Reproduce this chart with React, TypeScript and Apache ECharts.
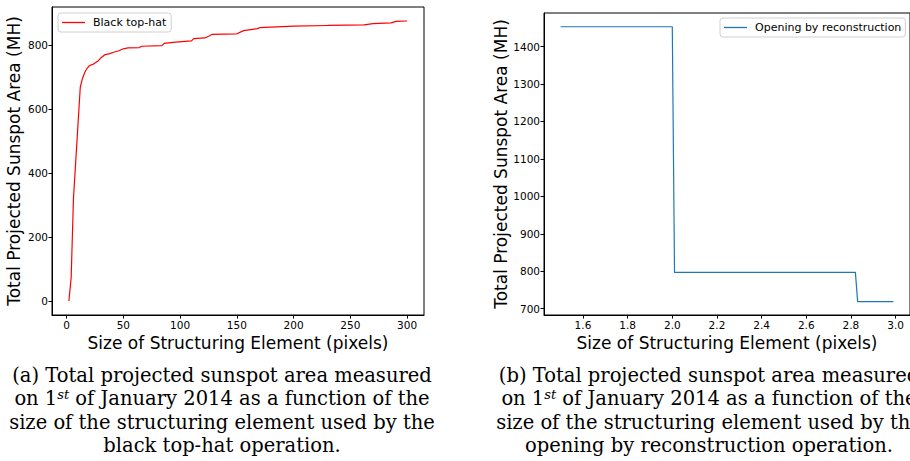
import React, { useEffect, useRef } from "react";
import * as echarts from "echarts";

// Black top-hat: structuring element size (pixels) vs total projected area (MH)
const topHatSize = [2, 4, 6, 8, 10, 12, 14, 16, 18, 20, 24, 28, 30, 34, 38, 42, 46, 50, 54, 64, 66, 84, 86, 96, 110, 112, 122, 126, 128, 150, 156, 168, 170, 200, 230, 262, 270, 286, 290, 300];
const topHatArea = [0, 74, 320, 436, 552, 668, 697, 715, 728, 736, 742, 752, 760, 771, 774, 779, 783, 789, 792, 793, 797, 799, 806, 810, 814, 821, 823, 830, 834, 836, 846, 852, 855, 860, 862, 864, 868, 870, 875, 876];

// Opening by reconstruction
const openSize = [1.5, 2.0, 2.01, 2.82, 2.83, 2.99];
const openArea = [1453, 1453, 797, 797, 719, 719];

// Tick labels
const leftXTicks = [0, 50, 100, 150, 200, 250, 300];
const leftYTicks = [0, 200, 400, 600, 800];
const rightXTicks = [1.6, 1.8, 2.0, 2.2, 2.4, 2.6, 2.8, 3.0];
const rightYTicks = [700, 800, 900, 1000, 1100, 1200, 1300, 1400];

const captionA = [
  "(a) Total projected sunspot area measured",
  "on 1{sup|st} of January 2014 as a function of the",
  "size of the structuring element used by the",
  "black top-hat operation.",
];
const captionB = [
  "(b) Total projected sunspot area measured",
  "on 1{sup|st} of January 2014 as a function of the",
  "size of the structuring element used by the",
  "opening by reconstruction operation.",
];

const SANS = "DejaVu Sans";
const SERIF = "DejaVu Serif";

export default function App() {
  const ref = useRef<HTMLDivElement>(null);
  useEffect(() => {
    if (!ref.current) return;
    const chart = echarts.init(ref.current, undefined, { renderer: "svg" });

    const axisCommon = (ticks: number[], margin: number, fmt: (v: number) => string) => ({
      type: "value" as const,
      axisLine: { show: true, onZero: false, lineStyle: { color: "#000", width: 1 } },
      axisTick: { show: true, length: 3.5, customValues: ticks, lineStyle: { color: "#000", width: 1 } },
      axisLabel: {
        customValues: ticks,
        color: "#000",
        fontSize: 10.5,
        fontFamily: SANS,
        margin,
        formatter: (v: number) => fmt(v),
      },
      splitLine: { show: false },
      nameLocation: "middle" as const,
      nameTextStyle: { color: "#000", fontSize: 17, fontFamily: SANS },
    });

    const plain = (v: number) => String(v);
    const oneDec = (v: number) => v.toFixed(1);

    const captionLines = (lines: string[], cx: number) =>
      lines.map((t, i) => ({
        type: "text",
        x: cx,
        y: 375 + i * 23.5,
        style: {
          text: t,
          fill: "#000",
          fontSize: 19.5,
          fontFamily: SERIF,
          align: "center",
          verticalAlign: "middle",
          rich: {
            sup: { fontSize: 13, fontFamily: SERIF, fontStyle: "italic", verticalAlign: "top", padding: [0, 0, 8, 0] },
          },
        },
      }));

    const legendCommon = {
      orient: "vertical" as const,
      icon: "rect",
      itemWidth: 23,
      itemHeight: 1.3,
      itemGap: 0,
      borderColor: "#d0d0d0",
      borderWidth: 1,
      borderRadius: 3,
      backgroundColor: "rgba(255,255,255,0.8)",
      textStyle: { color: "#000", fontSize: 11, fontFamily: SANS, padding: [0, 0, 0, 3], lineHeight: 13 },
    };

    chart.setOption({
      animation: false,
      backgroundColor: "#fff",
      grid: [
        { left: 52, top: 7, width: 372, height: 308, show: true, borderColor: "#000", borderWidth: 1 },
        { left: 544, top: 13, width: 366, height: 302, show: true, borderColor: "#000", borderWidth: 1 },
      ],
      xAxis: [
        {
          ...axisCommon(leftXTicks, 4, plain),
          gridIndex: 0,
          min: -12.9,
          max: 314.9,
          name: "Size of Structuring Element (pixels)",
          nameGap: 13,
        },
        {
          ...axisCommon(rightXTicks, 4, oneDec),
          gridIndex: 1,
          min: 1.4255,
          max: 3.0645,
          name: "Size of Structuring Element (pixels)",
          nameGap: 13,
        },
      ],
      yAxis: [
        {
          ...axisCommon(leftYTicks, 4, plain),
          gridIndex: 0,
          min: -43.8,
          max: 919.8,
          name: "Total Projected Sunspot Area (MH)",
          nameGap: 30,
        },
        {
          ...axisCommon(rightYTicks, 4, plain),
          gridIndex: 1,
          min: 683.3,
          max: 1489.7,
          name: "Total Projected Sunspot Area (MH)",
          nameGap: 34,
        },
      ],
      legend: [
        {
          ...legendCommon,
          data: ["Black top-hat"],
          left: 58,
          top: 13,
          padding: [3, 5, 3, 4],
        },
        {
          ...legendCommon,
          data: ["Opening by reconstruction"],
          left: 720,
          top: 18,
          padding: [3, 4, 3, 4],
        },
      ],
      series: [
        {
          name: "Black top-hat",
          type: "line",
          xAxisIndex: 0,
          yAxisIndex: 0,
          symbol: "none",
          color: "#ff0000",
          lineStyle: { color: "#ff0000", width: 1.2 },
          data: topHatSize.map((x, i) => [x, topHatArea[i]]),
        },
        {
          name: "Opening by reconstruction",
          type: "line",
          xAxisIndex: 1,
          yAxisIndex: 1,
          symbol: "none",
          color: "#1f77b4",
          lineStyle: { color: "#1f77b4", width: 1.2 },
          data: openSize.map((x, i) => [x, openArea[i]]),
        },
      ],
      graphic: [...captionLines(captionA, 222), ...captionLines(captionB, 709)],
    });

    return () => chart.dispose();
  }, []);

  return (
    <div
      ref={ref}
      style={{ position: "fixed", left: 0, top: 0, width: 910, height: 461 }}
    />
  );
}
